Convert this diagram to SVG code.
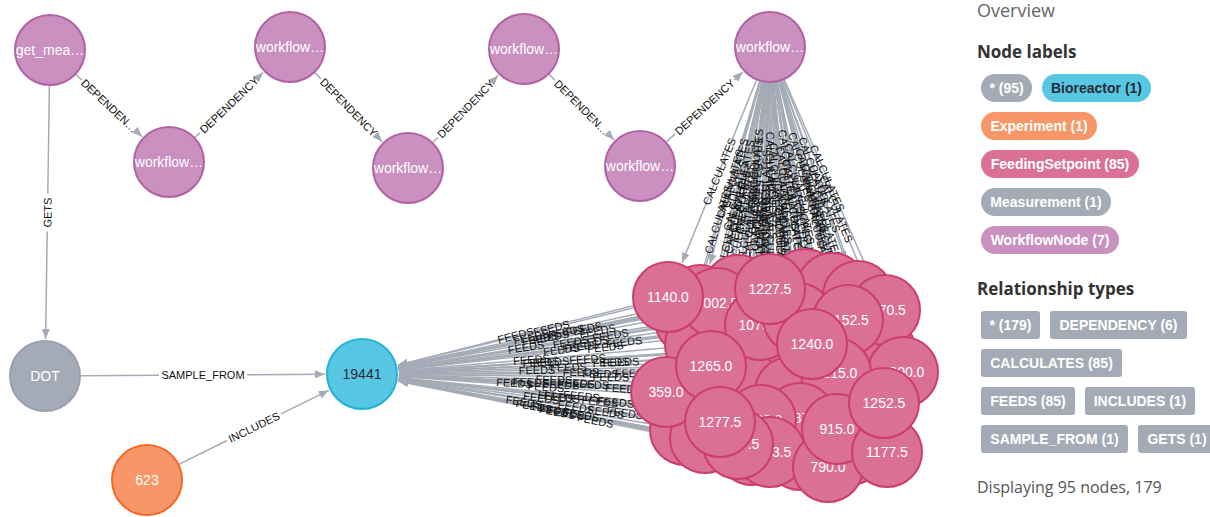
<svg xmlns="http://www.w3.org/2000/svg" width="1210" height="517" viewBox="0 0 1210 517">
<defs>
<marker id="ah" viewBox="0 0 10 8" refX="10" refY="4" markerWidth="10" markerHeight="8" markerUnits="userSpaceOnUse" orient="auto"><path d="M0,0L10,4L0,8z" fill="#a5abb6"/></marker>
<style>
.e{stroke:#a5abb6;stroke-width:1.5;fill:none}
.a{marker-end:url(#ah)}
.el{font-family:"Liberation Sans",Arial,sans-serif;font-size:11px;fill:#111;text-anchor:middle}
.nt{font-family:"Liberation Sans",Arial,sans-serif;font-size:14px;fill:#fff;text-anchor:middle}
.wf circle{fill:#c990c0;stroke:#b261a5;stroke-width:2}
.fs circle{fill:#da7194;stroke:#cc3c6c;stroke-width:2}
.ms circle{fill:#a5abb6;stroke:#9aa1ac;stroke-width:2}
.br circle{fill:#57c7e3;stroke:#23b3d7;stroke-width:2}
.ex circle{fill:#f79767;stroke:#f36924;stroke-width:2}
.h1{font-family:"Open Sans","Liberation Sans",sans-serif;font-size:18px;fill:#666}
.h2{font-family:"Open Sans","Liberation Sans",sans-serif;font-size:17px;font-weight:bold;fill:#333}
.pt{font-family:"Liberation Sans",Arial,sans-serif;font-size:14px;font-weight:bold;fill:#fff;text-anchor:middle}
.ft{font-family:"Open Sans","Liberation Sans",sans-serif;font-size:16px;fill:#555}
</style>
</defs>
<rect width="1210" height="517" fill="#fff"/>
<g id="connectors">
<!-- DEPENDENCY -->
<line class="e" x1="76.2" y1="74.7" x2="81.5" y2="79.7"/><line class="e a" x1="136.9" y1="131.7" x2="142.1" y2="136.6"/>
<text class="el" transform="translate(109.2,105.7) rotate(43.27)" y="4">DEPENDEN…</text>
<line class="e" x1="195.1" y1="137.2" x2="200.2" y2="132.5"/><line class="e a" x1="258.2" y1="77.3" x2="263.2" y2="72.5"/>
<text class="el" transform="translate(229.2,104.9) rotate(-43.54)" y="4">DEPENDENCY</text>
<line class="e" x1="315.1" y1="72.8" x2="320.8" y2="78.6"/><line class="e a" x1="376.6" y1="135.8" x2="382.2" y2="141.5"/>
<text class="el" transform="translate(348.7,107.2) rotate(45.72)" y="4">DEPENDENCY</text>
<line class="e" x1="433.1" y1="142.2" x2="437.8" y2="137.5"/><line class="e a" x1="493.6" y1="80.3" x2="498.2" y2="75.5"/>
<text class="el" transform="translate(465.7,108.9) rotate(-45.73)" y="4">DEPENDENCY</text>
<line class="e" x1="549.3" y1="74.6" x2="554.9" y2="80.2"/><line class="e a" x1="608.5" y1="134.2" x2="614" y2="139.7"/>
<text class="el" transform="translate(581.7,107.2) rotate(45.25)" y="4">DEPENDEN…</text>
<line class="e" x1="666.6" y1="141.7" x2="675.2" y2="133.9"/><line class="e a" x1="734.2" y1="79.9" x2="742.7" y2="72"/>
<text class="el" transform="translate(704.7,106.9) rotate(-42.47)" y="4">DEPENDENCY</text>
<!-- GETS -->
<line class="e" x1="49.4" y1="86" x2="47.8" y2="193.5"/><line class="e a" x1="47.2" y1="231.5" x2="45.6" y2="339"/>
<text class="el" transform="translate(47.5,212.5) rotate(-89.12)" y="4">GETS</text>
<!-- SAMPLE_FROM -->
<line class="e" x1="81" y1="375.8" x2="159" y2="375.3"/><line class="e a" x1="247" y1="374.7" x2="325" y2="374.2"/>
<text class="el" x="203" y="379">SAMPLE_FROM</text>
<!-- INCLUDES -->
<line class="e" x1="179.3" y1="464.1" x2="227.1" y2="440.5"/><line class="e a" x1="280.9" y1="413.9" x2="328.8" y2="390.4"/>
<text class="el" transform="translate(254,427.2) rotate(-26.25)" y="4">INCLUDES</text>
<!-- FEEDS -->
<g id="feeds">
<line class="e a" x1="740" y1="350" x2="398.9" y2="371.7"/>
<line class="e a" x1="775" y1="360" x2="399" y2="372.7"/>
<line class="e a" x1="760" y1="395" x2="398.9" y2="376"/>
<line class="e a" x1="730" y1="400" x2="398.9" y2="376.6"/>
<line class="e a" x1="800" y1="370" x2="399" y2="373.7"/>
<line class="e a" x1="820" y1="395" x2="399" y2="375.7"/>
<line class="e a" x1="860" y1="350" x2="399" y2="372.2"/>
<line class="e a" x1="870" y1="430" x2="398.8" y2="378.1"/>
<line class="e a" x1="850" y1="450" x2="398.6" y2="379.7"/>
<line class="e a" x1="790" y1="440" x2="398.6" y2="379.6"/>
<line class="e a" x1="700" y1="390" x2="399" y2="375.7"/>
<line class="e a" x1="690" y1="320" x2="398.5" y2="368"/>
<line class="e a" x1="780" y1="310" x2="398.6" y2="368.4"/>
<line class="e a" x1="820" y1="310" x2="398.6" y2="368.9"/>
<line class="e a" x1="740" y1="300" x2="398.3" y2="366.9"/>
<line class="e a" x1="860" y1="380" x2="399" y2="374.4"/>
<line class="e a" x1="800" y1="455" x2="398.4" y2="380.7"/>
<line class="e a" x1="720" y1="350" x2="398.9" y2="371.5"/>
<line class="e a" x1="750" y1="420" x2="398.7" y2="378.4"/>
<line class="e a" x1="880" y1="350" x2="399" y2="372.3"/>
<line class="e a" x1="700" y1="300" x2="398.1" y2="366.1"/>
<line class="e a" x1="740" y1="282" x2="398" y2="365.3"/>
<line class="e a" x1="805" y1="284" x2="398.3" y2="366.6"/>
<line class="e a" x1="832" y1="288" x2="398.4" y2="367.3"/>
<line class="e a" x1="858" y1="296" x2="398.5" y2="368.3"/>
<line class="e a" x1="700" y1="345" x2="398.9" y2="370.8"/>
<line class="e a" x1="685" y1="430" x2="398.5" y2="380.3"/>
<line class="e a" x1="705" y1="438" x2="398.4" y2="380.8"/>
<line class="e a" x1="752" y1="450" x2="398.3" y2="381.1"/>
<line class="e a" x1="745" y1="385" x2="399" y2="375.1"/>
<line class="e a" x1="790" y1="392" x2="399" y2="375.6"/>
<line class="e a" x1="798" y1="318" x2="398.7" y2="369.3"/>
<line class="e a" x1="717" y1="303" x2="398.3" y2="366.7"/>
<line class="e a" x1="760" y1="325" x2="398.7" y2="369.5"/>
<line class="e a" x1="848" y1="320" x2="398.8" y2="369.9"/>
<line class="e a" x1="885" y1="310" x2="398.7" y2="369.5"/>
<line class="e a" x1="903" y1="372" x2="399" y2="373.9"/>
<line class="e a" x1="838" y1="373" x2="399" y2="374"/>
<line class="e a" x1="800" y1="418" x2="398.8" y2="377.7"/>
<line class="e a" x1="761" y1="420" x2="398.8" y2="378.2"/>
<line class="e a" x1="770" y1="452" x2="398.3" y2="381"/>
<line class="e a" x1="738" y1="444" x2="398.4" y2="380.8"/>
<line class="e a" x1="666" y1="392" x2="398.9" y2="376.2"/>
<line class="e a" x1="668" y1="297" x2="397.9" y2="365"/>
<line class="e a" x1="770" y1="289" x2="398.2" y2="366.5"/>
<line class="e a" x1="711" y1="366" x2="399" y2="373.2"/>
<line class="e a" x1="812" y1="344" x2="398.9" y2="371.5"/>
<line class="e a" x1="720" y1="422" x2="398.7" y2="378.9"/>
<line class="e a" x1="828" y1="467" x2="398.3" y2="381.2"/>
<line class="e a" x1="837" y1="429" x2="398.8" y2="378.3"/>
<line class="e a" x1="887" y1="452" x2="398.6" y2="379.4"/>
<line class="e a" x1="884" y1="403" x2="398.9" y2="376.1"/>
<text class="el" transform="translate(551,362) rotate(-3.63)" y="4">FEEDS</text>
<text class="el" transform="translate(568.5,367) rotate(-1.94)" y="4">FEEDS</text>
<text class="el" transform="translate(561,384.5) rotate(3.02)" y="4">FEEDS</text>
<text class="el" transform="translate(546,387) rotate(4.04)" y="4">FEEDS</text>
<text class="el" transform="translate(581,372) rotate(-0.52)" y="4">FEEDS</text>
<text class="el" transform="translate(591,384.5) rotate(2.63)" y="4">FEEDS</text>
<text class="el" transform="translate(611,362) rotate(-2.76)" y="4">FEEDS</text>
<text class="el" transform="translate(616,402) rotate(6.29)" y="4">FEEDS</text>
<text class="el" transform="translate(606,412) rotate(8.85)" y="4">FEEDS</text>
<text class="el" transform="translate(576,407) rotate(8.77)" y="4">FEEDS</text>
<text class="el" transform="translate(531,382) rotate(2.71)" y="4">FEEDS</text>
<text class="el" transform="translate(526,347) rotate(-9.35)" y="4">FEEDS</text>
<text class="el" transform="translate(571,342) rotate(-8.7)" y="4">FEEDS</text>
<text class="el" transform="translate(591,342) rotate(-7.95)" y="4">FEEDS</text>
<text class="el" transform="translate(551,337) rotate(-11.08)" y="4">FEEDS</text>
<text class="el" transform="translate(611,377) rotate(0.69)" y="4">FEEDS</text>
<text class="el" transform="translate(581,414.5) rotate(10.48)" y="4">FEEDS</text>
<text class="el" transform="translate(541,362) rotate(-3.84)" y="4">FEEDS</text>
<text class="el" transform="translate(556,397) rotate(6.76)" y="4">FEEDS</text>
<text class="el" transform="translate(621,362) rotate(-2.65)" y="4">FEEDS</text>
<text class="el" transform="translate(531.5,336.9) rotate(-12.35)" y="4">FEEDS</text>
<text class="el" transform="translate(551.5,327.9) rotate(-13.68)" y="4">FEEDS</text>
<text class="el" transform="translate(584,328.9) rotate(-11.48)" y="4">FEEDS</text>
<text class="el" transform="translate(597.5,330.9) rotate(-10.37)" y="4">FEEDS</text>
<text class="el" transform="translate(610.5,335) rotate(-8.94)" y="4">FEEDS</text>
<text class="el" transform="translate(531.5,359.5) rotate(-4.9)" y="4">FEEDS</text>
<text class="el" transform="translate(524,402.1) rotate(9.84)" y="4">FEEDS</text>
<text class="el" transform="translate(534,406.1) rotate(10.57)" y="4">FEEDS</text>
<text class="el" transform="translate(557.5,412.1) rotate(11.03)" y="4">FEEDS</text>
<text class="el" transform="translate(554,379.5) rotate(1.65)" y="4">FEEDS</text>
<text class="el" transform="translate(576.5,383) rotate(2.41)" y="4">FEEDS</text>
<text class="el" transform="translate(580.5,346) rotate(-7.32)" y="4">FEEDS</text>
<text class="el" transform="translate(540,338.4) rotate(-11.31)" y="4">FEEDS</text>
<text class="el" transform="translate(561.5,349.5) rotate(-7.02)" y="4">FEEDS</text>
<text class="el" transform="translate(605.5,347) rotate(-6.34)" y="4">FEEDS</text>
<text class="el" transform="translate(624,342) rotate(-6.98)" y="4">FEEDS</text>
<text class="el" transform="translate(633,373) rotate(-0.2)" y="4">FEEDS</text>
<text class="el" transform="translate(600.5,373.5) rotate(-0.12)" y="4">FEEDS</text>
<text class="el" transform="translate(581.5,396) rotate(5.74)" y="4">FEEDS</text>
<text class="el" transform="translate(562,397) rotate(6.58)" y="4">FEEDS</text>
<text class="el" transform="translate(566.5,413.1) rotate(10.82)" y="4">FEEDS</text>
<text class="el" transform="translate(550.5,409.1) rotate(10.55)" y="4">FEEDS</text>
<text class="el" transform="translate(514.5,383) rotate(3.39)" y="4">FEEDS</text>
<text class="el" transform="translate(515.5,335.4) rotate(-14.12)" y="4">FEEDS</text>
<text class="el" transform="translate(566.5,331.4) rotate(-11.77)" y="4">FEEDS</text>
<text class="el" transform="translate(537,370) rotate(-1.31)" y="4">FEEDS</text>
<text class="el" transform="translate(587.5,359) rotate(-3.81)" y="4">FEEDS</text>
<text class="el" transform="translate(541.5,398) rotate(7.64)" y="4">FEEDS</text>
<text class="el" transform="translate(595.5,420.6) rotate(11.29)" y="4">FEEDS</text>
<text class="el" transform="translate(600,401.6) rotate(6.6)" y="4">FEEDS</text>
<text class="el" transform="translate(625,413) rotate(8.45)" y="4">FEEDS</text>
<text class="el" transform="translate(623.5,388.5) rotate(3.18)" y="4">FEEDS</text>
</g>
<!-- CALCULATES -->
<g id="calculates">
<line class="e" x1="770" y1="47" x2="740" y2="350"/>
<line class="e" x1="770" y1="47" x2="775" y2="360"/>
<line class="e" x1="770" y1="47" x2="760" y2="395"/>
<line class="e" x1="770" y1="47" x2="730" y2="400"/>
<line class="e" x1="770" y1="47" x2="800" y2="370"/>
<line class="e" x1="770" y1="47" x2="820" y2="395"/>
<line class="e" x1="770" y1="47" x2="860" y2="350"/>
<line class="e" x1="770" y1="47" x2="870" y2="430"/>
<line class="e" x1="770" y1="47" x2="850" y2="450"/>
<line class="e" x1="770" y1="47" x2="790" y2="440"/>
<line class="e" x1="770" y1="47" x2="700" y2="390"/>
<line class="e" x1="770" y1="47" x2="690" y2="320"/>
<line class="e" x1="770" y1="47" x2="780" y2="310"/>
<line class="e" x1="770" y1="47" x2="820" y2="310"/>
<line class="e" x1="770" y1="47" x2="740" y2="300"/>
<line class="e" x1="770" y1="47" x2="860" y2="380"/>
<line class="e" x1="770" y1="47" x2="800" y2="455"/>
<line class="e" x1="770" y1="47" x2="720" y2="350"/>
<line class="e" x1="770" y1="47" x2="750" y2="420"/>
<line class="e" x1="770" y1="47" x2="880" y2="350"/>
<line class="e a" x1="760.4" y1="81.7" x2="709.9" y2="264.3"/>
<line class="e a" x1="765.4" y1="82.7" x2="744.7" y2="245.3"/>
<line class="e a" x1="775.3" y1="82.6" x2="799.6" y2="247.4"/>
<line class="e a" x1="779" y1="81.9" x2="822.8" y2="252.2"/>
<line class="e a" x1="782" y1="80.9" x2="845.7" y2="261.1"/>
<line class="e a" x1="761.8" y1="82" x2="708.5" y2="309"/>
<line class="e a" x1="762.2" y1="82.1" x2="693" y2="393.9"/>
<line class="e a" x1="764.1" y1="82.5" x2="711.1" y2="401.5"/>
<line class="e a" x1="768.4" y1="83" x2="753.7" y2="413"/>
<line class="e a" x1="767.3" y1="82.9" x2="747.7" y2="348.1"/>
<line class="e a" x1="772.1" y1="82.9" x2="787.9" y2="355.1"/>
<line class="e a" x1="773.7" y1="82.8" x2="794.2" y2="281.2"/>
<line class="e a" x1="762.7" y1="82.3" x2="724.5" y2="266.8"/>
<line class="e a" x1="768.7" y1="83" x2="761.3" y2="288"/>
<line class="e a" x1="779.9" y1="81.6" x2="837.8" y2="284.4"/>
<line class="e a" x1="784.4" y1="80" x2="870.2" y2="276.1"/>
<line class="e a" x1="783.6" y1="80.3" x2="889" y2="337.8"/>
<line class="e a" x1="777.4" y1="82.2" x2="830.4" y2="336.8"/>
<line class="e a" x1="772.9" y1="82.9" x2="797" y2="381.1"/>
<line class="e a" x1="769.1" y1="83" x2="761.9" y2="383"/>
<line class="e a" x1="770" y1="83" x2="770" y2="415"/>
<line class="e a" x1="767.1" y1="82.9" x2="741" y2="407.1"/>
<line class="e a" x1="759.6" y1="81.5" x2="676.7" y2="356.6"/>
<line class="e a" x1="756.4" y1="80.3" x2="682" y2="262.7"/>
<line class="e a" x1="770" y1="83" x2="770" y2="252"/>
<line class="e a" x1="763.5" y1="82.4" x2="717.7" y2="329.6"/>
<line class="e a" x1="775" y1="82.6" x2="806.8" y2="307.4"/>
<line class="e a" x1="765.2" y1="82.7" x2="724.9" y2="385.3"/>
<line class="e a" x1="774.9" y1="82.7" x2="822.9" y2="430.3"/>
<line class="e a" x1="776.2" y1="82.5" x2="830.6" y2="392.6"/>
<line class="e a" x1="780" y1="81.6" x2="876.7" y2="416.5"/>
<line class="e a" x1="781" y1="81.3" x2="872.7" y2="367.8"/>
<text class="el" transform="translate(755,198.5) rotate(-84.35)" y="4">CALCULATES</text>
<text class="el" transform="translate(772.5,203.5) rotate(89.08)" y="4">CALCULATES</text>
<text class="el" transform="translate(765,221) rotate(-88.35)" y="4">CALCULATES</text>
<text class="el" transform="translate(750,223.5) rotate(-83.54)" y="4">CALCULATES</text>
<text class="el" transform="translate(785,208.5) rotate(84.69)" y="4">CALCULATES</text>
<text class="el" transform="translate(795,221) rotate(81.82)" y="4">CALCULATES</text>
<text class="el" transform="translate(815,198.5) rotate(73.46)" y="4">CALCULATES</text>
<text class="el" transform="translate(820,238.5) rotate(75.37)" y="4">CALCULATES</text>
<text class="el" transform="translate(810,248.5) rotate(78.77)" y="4">CALCULATES</text>
<text class="el" transform="translate(780,243.5) rotate(87.09)" y="4">CALCULATES</text>
<text class="el" transform="translate(735,218.5) rotate(-78.47)" y="4">CALCULATES</text>
<text class="el" transform="translate(730,183.5) rotate(-73.67)" y="4">CALCULATES</text>
<text class="el" transform="translate(775,178.5) rotate(87.82)" y="4">CALCULATES</text>
<text class="el" transform="translate(795,178.5) rotate(79.24)" y="4">CALCULATES</text>
<text class="el" transform="translate(755,173.5) rotate(-83.24)" y="4">CALCULATES</text>
<text class="el" transform="translate(815,213.5) rotate(74.88)" y="4">CALCULATES</text>
<text class="el" transform="translate(785,251) rotate(85.79)" y="4">CALCULATES</text>
<text class="el" transform="translate(745,198.5) rotate(-80.63)" y="4">CALCULATES</text>
<text class="el" transform="translate(760,233.5) rotate(-86.93)" y="4">CALCULATES</text>
<text class="el" transform="translate(825,198.5) rotate(70.05)" y="4">CALCULATES</text>
<text class="el" transform="translate(735.2,173) rotate(-74.53)" y="4">CALCULATES</text>
<text class="el" transform="translate(755,164) rotate(-82.72)" y="4">CALCULATES</text>
<text class="el" transform="translate(787.4,165) rotate(81.6)" y="4">CALCULATES</text>
<text class="el" transform="translate(800.9,167) rotate(75.57)" y="4">CALCULATES</text>
<text class="el" transform="translate(813.8,171) rotate(70.53)" y="4">CALCULATES</text>
<text class="el" transform="translate(735.1,195.5) rotate(-76.78)" y="4">CALCULATES</text>
<text class="el" transform="translate(727.6,238) rotate(-77.49)" y="4">CALCULATES</text>
<text class="el" transform="translate(737.6,242) rotate(-80.56)" y="4">CALCULATES</text>
<text class="el" transform="translate(761,248) rotate(-87.44)" y="4">CALCULATES</text>
<text class="el" transform="translate(757.5,215.5) rotate(-85.77)" y="4">CALCULATES</text>
<text class="el" transform="translate(780,219) rotate(86.68)" y="4">CALCULATES</text>
<text class="el" transform="translate(784,182) rotate(84.1)" y="4">CALCULATES</text>
<text class="el" transform="translate(743.6,174.6) rotate(-78.3)" y="4">CALCULATES</text>
<text class="el" transform="translate(765,185.5) rotate(-87.94)" y="4">CALCULATES</text>
<text class="el" transform="translate(808.9,183) rotate(74.05)" y="4">CALCULATES</text>
<text class="el" transform="translate(827.3,178.1) rotate(66.38)" y="4">CALCULATES</text>
<text class="el" transform="translate(836.3,209) rotate(67.75)" y="4">CALCULATES</text>
<text class="el" transform="translate(803.9,209.5) rotate(78.22)" y="4">CALCULATES</text>
<text class="el" transform="translate(785,232) rotate(85.38)" y="4">CALCULATES</text>
<text class="el" transform="translate(765.5,233) rotate(-88.62)" y="4">CALCULATES</text>
<text class="el" transform="translate(770,249) rotate(90)" y="4">CALCULATES</text>
<text class="el" transform="translate(754,245) rotate(-85.39)" y="4">CALCULATES</text>
<text class="el" transform="translate(718.2,219.1) rotate(-73.22)" y="4">CALCULATES</text>
<text class="el" transform="translate(719.2,171.5) rotate(-67.8)" y="4">CALCULATES</text>
<text class="el" transform="translate(770,167.5) rotate(90)" y="4">CALCULATES</text>
<text class="el" transform="translate(740.6,206) rotate(-79.52)" y="4">CALCULATES</text>
<text class="el" transform="translate(790.9,195) rotate(81.95)" y="4">CALCULATES</text>
<text class="el" transform="translate(745.1,234) rotate(-82.41)" y="4">CALCULATES</text>
<text class="el" transform="translate(798.9,256.5) rotate(82.14)" y="4">CALCULATES</text>
<text class="el" transform="translate(803.4,237.6) rotate(80.05)" y="4">CALCULATES</text>
<text class="el" transform="translate(828.4,249) rotate(73.89)" y="4">CALCULATES</text>
<text class="el" transform="translate(826.9,224.6) rotate(72.24)" y="4">CALCULATES</text>
</g>
</g>
<g id="n-get" class="wf"><circle cx="50" cy="50" r="35"/><text class="nt" x="50" y="55">get_mea…</text></g>
<g id="n-wf2" class="wf"><circle cx="169" cy="162" r="35"/><text class="nt" x="169" y="167">workflow…</text></g>
<g id="n-wf3" class="wf"><circle cx="290" cy="47" r="35"/><text class="nt" x="290" y="52">workflow…</text></g>
<g id="n-wf4" class="wf"><circle cx="408" cy="168" r="35"/><text class="nt" x="408" y="173">workflow…</text></g>
<g id="n-wf5" class="wf"><circle cx="524" cy="49" r="35"/><text class="nt" x="524" y="54">workflow…</text></g>
<g id="n-wf6" class="wf"><circle cx="640" cy="166" r="35"/><text class="nt" x="640" y="171">workflow…</text></g>
<g id="n-wf7" class="wf"><circle cx="770" cy="47" r="35"/><text class="nt" x="770" y="52">workflow…</text></g>
<g id="n-dot" class="ms"><circle cx="45" cy="376" r="35"/><text class="nt" x="45" y="381">DOT</text></g>
<g id="n-19441" class="br"><circle cx="362" cy="374" r="35"/><text class="nt" x="362" y="379" style="fill:#2a2c34">19441</text></g>
<g id="n-623" class="ex"><circle cx="147" cy="480" r="35"/><text class="nt" x="147" y="485">623</text></g>
<g id="feeding-setpoints" class="fs">
<g id="fh1"><circle cx="740" cy="350" r="35"/></g>
<g id="fh2"><circle cx="775" cy="360" r="35"/></g>
<g id="fh3"><circle cx="760" cy="395" r="35"/></g>
<g id="fh4"><circle cx="730" cy="400" r="35"/></g>
<g id="fh5"><circle cx="800" cy="370" r="35"/></g>
<g id="fh6"><circle cx="820" cy="395" r="35"/></g>
<g id="fh7"><circle cx="860" cy="350" r="35"/></g>
<g id="fh8"><circle cx="870" cy="430" r="35"/></g>
<g id="fh9"><circle cx="850" cy="450" r="35"/></g>
<g id="fh10"><circle cx="790" cy="440" r="35"/></g>
<g id="fh11"><circle cx="700" cy="390" r="35"/></g>
<g id="fh12"><circle cx="690" cy="320" r="35"/></g>
<g id="fh13"><circle cx="780" cy="310" r="35"/></g>
<g id="fh14"><circle cx="820" cy="310" r="35"/></g>
<g id="fh15"><circle cx="740" cy="300" r="35"/></g>
<g id="fh16"><circle cx="860" cy="380" r="35"/></g>
<g id="fh17"><circle cx="800" cy="455" r="35"/></g>
<g id="fh18"><circle cx="720" cy="350" r="35"/></g>
<g id="fh19"><circle cx="750" cy="420" r="35"/></g>
<g id="fh20"><circle cx="880" cy="350" r="35"/></g>
<g id="fs1"><circle cx="700" cy="300" r="35"/></g>
<g id="fs2"><circle cx="738" cy="290" r="35"/></g>
<g id="fs3"><circle cx="805" cy="284" r="35"/></g>
<g id="fs4"><circle cx="832" cy="288" r="35"/></g>
<g id="fs5"><circle cx="858" cy="296" r="35"/></g>
<g id="fs6"><circle cx="700" cy="345" r="35"/></g>
<g id="fs7"><circle cx="685" cy="430" r="35"/></g>
<g id="fs8"><circle cx="705" cy="438" r="35"/></g>
<g id="fs9"><circle cx="752" cy="450" r="35"/></g>
<g id="fs10"><circle cx="745" cy="385" r="35"/></g>
<g id="fs11"><circle cx="790" cy="392" r="35"/></g>
<g id="fs13"><circle cx="717" cy="303" r="35"/><text class="nt" x="717" y="308">1002.5</text></g>
<g id="fs14"><circle cx="760" cy="325" r="35"/><text class="nt" x="760" y="330">1075.0</text></g>
<g id="fs12"><circle cx="798" cy="318" r="35"/></g>
<g id="fs16"><circle cx="885" cy="310" r="35"/><text class="nt" x="885" y="315">1170.5</text></g>
<g id="fs15"><circle cx="848" cy="320" r="35"/><text class="nt" x="848" y="325">1152.5</text></g>
<g id="fs17"><circle cx="903" cy="372" r="35"/><text class="nt" x="903" y="377">1200.0</text></g>
<g id="fs18"><circle cx="836" cy="373" r="35"/><text class="nt" x="836" y="378">1215.0</text></g>
<g id="fs19"><circle cx="800" cy="418" r="35"/><text class="nt" x="800" y="423">1187.5</text></g>
<g id="fs20"><circle cx="761" cy="420" r="35"/><text class="nt" x="761" y="425">1060.0</text></g>
<g id="fs21"><circle cx="770" cy="452" r="35"/><text class="nt" x="770" y="457">1223.5</text></g>
<g id="fs22"><circle cx="738" cy="444" r="35"/><text class="nt" x="738" y="449">1237.5</text></g>
<g id="fs23"><circle cx="666" cy="392" r="35"/><text class="nt" x="666" y="397">359.0</text></g>
<g id="fs24"><circle cx="668" cy="297" r="35"/><text class="nt" x="668" y="302">1140.0</text></g>
<g id="fs25"><circle cx="770" cy="289" r="35"/><text class="nt" x="770" y="294">1227.5</text></g>
<g id="fs26"><circle cx="711" cy="366" r="35"/><text class="nt" x="711" y="371">1265.0</text></g>
<g id="fs27"><circle cx="812" cy="344" r="35"/><text class="nt" x="812" y="349">1240.0</text></g>
<g id="fs28"><circle cx="720" cy="422" r="35"/><text class="nt" x="720" y="427">1277.5</text></g>
<g id="fs29"><circle cx="828" cy="467" r="35"/><text class="nt" x="828" y="472">790.0</text></g>
<g id="fs30"><circle cx="837" cy="429" r="35"/><text class="nt" x="837" y="434">915.0</text></g>
<g id="fs31"><circle cx="887" cy="452" r="35"/><text class="nt" x="887" y="457">1177.5</text></g>
<g id="fs32"><circle cx="884" cy="403" r="35"/><text class="nt" x="884" y="408">1252.5</text></g>
</g>
<g id="overview">
<text class="h1" x="977" y="17">Overview</text>
<text class="h2" x="977" y="58">Node labels</text>
<rect x="981" y="74" width="51" height="28" rx="14" fill="#a5abb6"/><text class="pt" x="1006.5" y="93">* (95)</text>
<rect x="1042" y="74" width="109" height="28" rx="14" fill="#57c7e3"/><text class="pt" x="1096.5" y="93" style="fill:#2a2c34">Bioreactor (1)</text>
<rect x="981" y="112" width="116" height="28" rx="14" fill="#f79767"/><text class="pt" x="1039" y="131">Experiment (1)</text>
<rect x="981" y="150" width="158" height="28" rx="14" fill="#da7194"/><text class="pt" x="1060" y="169">FeedingSetpoint (85)</text>
<rect x="981" y="188" width="130" height="28" rx="14" fill="#a5abb6"/><text class="pt" x="1046" y="207">Measurement (1)</text>
<rect x="981" y="226" width="138" height="28" rx="14" fill="#c990c0"/><text class="pt" x="1050" y="245">WorkflowNode (7)</text>
<text class="h2" x="977" y="295">Relationship types</text>
<rect x="981" y="311" width="59" height="28" rx="3" fill="#a5abb6"/><text class="pt" x="1010.5" y="330">* (179)</text>
<rect x="1050" y="311" width="137" height="28" rx="3" fill="#a5abb6"/><text class="pt" x="1118.5" y="330">DEPENDENCY (6)</text>
<rect x="981" y="349" width="141" height="28" rx="3" fill="#a5abb6"/><text class="pt" x="1051.5" y="368">CALCULATES (85)</text>
<rect x="981" y="387" width="94" height="28" rx="3" fill="#a5abb6"/><text class="pt" x="1028" y="406">FEEDS (85)</text>
<rect x="1085" y="387" width="110" height="28" rx="3" fill="#a5abb6"/><text class="pt" x="1140" y="406">INCLUDES (1)</text>
<rect x="981" y="425" width="147" height="28" rx="3" fill="#a5abb6"/><text class="pt" x="1054.5" y="444">SAMPLE_FROM (1)</text>
<rect x="1138" y="425" width="80" height="28" rx="3" fill="#a5abb6"/><text class="pt" x="1177" y="444">GETS (1)</text>
<text class="ft" x="977" y="493">Displaying 95 nodes, 179</text>
</g>
</svg>
